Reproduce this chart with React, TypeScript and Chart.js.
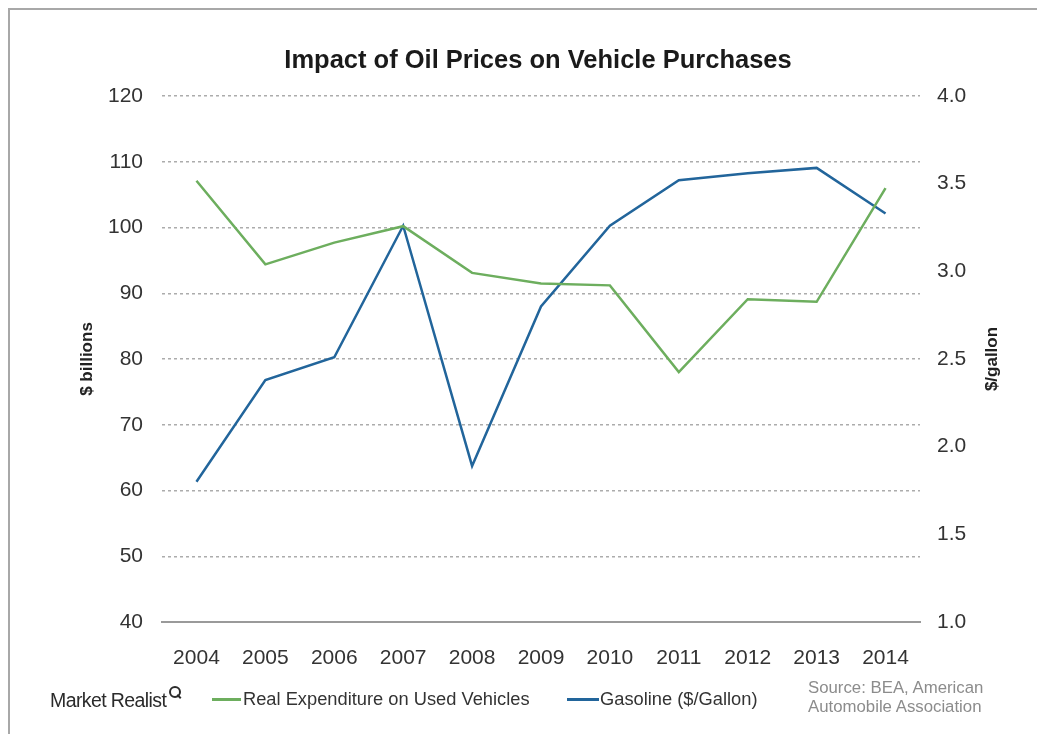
import React, { useEffect, useRef } from "react";
import { Chart, registerables } from "chart.js";

Chart.register(...registerables);

const years = ["2004", "2005", "2006", "2007", "2008", "2009", "2010", "2011", "2012", "2013", "2014"];
const usedVehicleSpend = [107.1, 94.4, 97.7, 100.2, 93.1, 91.5, 91.2, 78.0, 89.1, 88.7, 106.0];
const gasolinePrice = [1.80, 2.38, 2.51, 3.26, 1.89, 2.80, 3.26, 3.52, 3.56, 3.59, 3.33];

const leftAxisRange = [40, 120];
const leftAxisStep = 10;
const rightAxisRange = [1.0, 4.0];
const rightAxisStep = 0.5;

const chartTitle = "Impact of Oil Prices on Vehicle Purchases";
const leftAxisTitle = "$ billions";
const rightAxisTitle = "$/gallon";
const seriesNames = ["Real Expenditure on Used Vehicles", "Gasoline ($/Gallon)"];
const brandName = "Market Realist";
const sourceLines = ["Source: BEA, American", "Automobile Association"];

const GREEN = "#6dae5e";
const BLUE = "#22659b";
const FONT = "'Liberation Sans', Arial, Helvetica, sans-serif";

const textPlugin = {
  id: "customTexts",
  afterDraw(chart: any) {
    const { ctx, chartArea } = chart;
    ctx.save();
    ctx.fillStyle = "#1a1a1a";
    ctx.font = `bold 25.5px ${FONT}`;
    ctx.textAlign = "center";
    ctx.textBaseline = "alphabetic";
    ctx.fillText(chartTitle, 528, 58);

    const midY = (chartArea.top + chartArea.bottom) / 2;
    ctx.font = `bold 17px ${FONT}`;
    ctx.textBaseline = "middle";
    ctx.fillStyle = "#222";
    ctx.save();
    ctx.translate(77, midY);
    ctx.rotate(-Math.PI / 2);
    ctx.fillText(leftAxisTitle, 0, 0);
    ctx.restore();
    ctx.save();
    ctx.translate(982, midY);
    ctx.rotate(-Math.PI / 2);
    ctx.fillText(rightAxisTitle, 0, 0);
    ctx.restore();
    ctx.restore();
  },
};

export default function App() {
  const canvasRef = useRef<HTMLCanvasElement | null>(null);

  useEffect(() => {
    const canvas = canvasRef.current;
    if (!canvas) return;
    const chart = new Chart(canvas, {
      type: "line",
      data: {
        labels: years,
        datasets: [
          {
            label: seriesNames[0],
            data: usedVehicleSpend,
            borderColor: GREEN,
            backgroundColor: GREEN,
            borderWidth: 2.5,
            pointRadius: 0,
            tension: 0,
            yAxisID: "y",
          },
          {
            label: seriesNames[1],
            data: gasolinePrice,
            borderColor: BLUE,
            backgroundColor: BLUE,
            borderWidth: 2.5,
            pointRadius: 0,
            tension: 0,
            yAxisID: "y1",
          },
        ],
      },
      options: {
        responsive: false,
        animation: false,
        layout: { padding: { top: 86, left: 0, right: 0, bottom: 0 } },
        plugins: {
          legend: { display: false },
          tooltip: { enabled: false },
          title: { display: false },
        },
        scales: {
          x: {
            type: "category",
            offset: true,
            grid: { display: false, drawTicks: false },
            border: { display: true, color: "#9a9a9a", width: 2 },
            ticks: {
              padding: 24,
              color: "#333",
              font: { family: FONT, size: 21 },
              maxRotation: 0,
              autoSkip: false,
            },
            afterFit: (s: any) => {
              s.height = 68;
            },
          },
          y: {
            type: "linear",
            position: "left",
            min: leftAxisRange[0],
            max: leftAxisRange[1],
            grid: {
              drawTicks: false,
              color: (c: any) => (c.tick && c.tick.value === leftAxisRange[0] ? "rgba(0,0,0,0)" : "#acacac"),
              lineWidth: 1.5,
            },
            border: { display: false, dash: [3, 3] },
            ticks: {
              stepSize: leftAxisStep,
              padding: 19,
              color: "#333",
              font: { family: FONT, size: 21 },
            },
            afterFit: (s: any) => {
              s.width = 152;
            },
          },
          y1: {
            type: "linear",
            position: "right",
            min: rightAxisRange[0],
            max: rightAxisRange[1],
            grid: { drawOnChartArea: false, drawTicks: false },
            border: { display: false },
            ticks: {
              stepSize: rightAxisStep,
              padding: 17,
              color: "#333",
              font: { family: FONT, size: 21 },
              callback: (v: any) => Number(v).toFixed(1),
            },
            afterFit: (s: any) => {
              s.width = 117;
            },
          },
        },
      },
      plugins: [textPlugin],
    });
    return () => chart.destroy();
  }, []);

  const legendText: React.CSSProperties = {
    position: "absolute",
    fontFamily: FONT,
    fontSize: 18.3,
    lineHeight: "22px",
    color: "#333",
    whiteSpace: "nowrap",
  };

  return (
    <div
      style={{
        position: "relative",
        width: 1035,
        height: 732,
        marginBottom: -8,
        borderTop: "2px solid #a8a8a8",
        borderLeft: "2px solid #a8a8a8",
        background: "#fff",
        overflow: "hidden",
      }}
    >
      <canvas
        ref={canvasRef}
        width={1027}
        height={680}
        style={{ position: "absolute", left: 0, top: 0, width: 1027, height: 680 }}
      />
      <div style={{ ...legendText, left: 40, top: 679, fontSize: 19.5, color: "#2b2b2b", letterSpacing: -0.6 }}>
        {brandName}
        <span
          style={{
            display: "inline-block",
            position: "relative",
            width: 8,
            height: 8,
            border: "2px solid #2b2b2b",
            borderRadius: "50%",
            marginLeft: 3,
            top: -9,
          }}
        >
          <span
            style={{
              position: "absolute",
              width: 2,
              height: 5,
              background: "#2b2b2b",
              left: 7,
              top: 6,
              transform: "rotate(-45deg)",
            }}
          />
        </span>
      </div>
      <div style={{ position: "absolute", left: 202, top: 688, width: 29, height: 3, background: GREEN }} />
      <div style={{ ...legendText, left: 233, top: 678 }}>{seriesNames[0]}</div>
      <div style={{ position: "absolute", left: 557, top: 688, width: 32, height: 3, background: BLUE }} />
      <div style={{ ...legendText, left: 590, top: 678 }}>{seriesNames[1]}</div>
      <div
        style={{
          position: "absolute",
          left: 798,
          top: 668,
          fontFamily: FONT,
          fontSize: 16.8,
          lineHeight: "19px",
          color: "#8c8c8c",
          whiteSpace: "nowrap",
        }}
      >
        {sourceLines.map((l) => (
          <div key={l}>{l}</div>
        ))}
      </div>
    </div>
  );
}
